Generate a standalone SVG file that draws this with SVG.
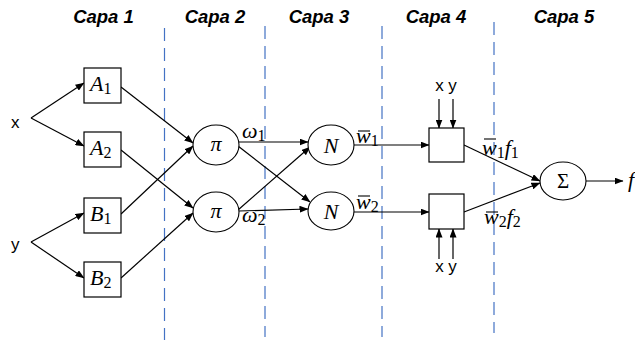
<svg xmlns="http://www.w3.org/2000/svg" width="635" height="341" viewBox="0 0 635 341">
<defs>
<marker id="ah" markerWidth="9" markerHeight="7" refX="8.5" refY="3.5" orient="auto" markerUnits="userSpaceOnUse">
<path d="M0,0 L9,3.5 L0,7 Z" fill="#000"/>
</marker>
<style>
.hdr{font-family:"Liberation Sans",Arial,sans-serif;font-weight:bold;font-style:italic;font-size:18.5px;text-anchor:middle;fill:#000}
.lbl{font-family:"Liberation Sans",Arial,sans-serif;font-size:17px;fill:#000}
.m{font-family:"Liberation Serif","Times New Roman",serif;font-style:italic;font-size:22px;fill:#000}
.up{font-family:"Liberation Serif","Times New Roman",serif;font-style:normal;font-size:21px;fill:#000}
.sub{font-style:normal;font-size:16px}
.box{fill:#fff;stroke:#000;stroke-width:1.2}
.node{fill:#fff;stroke:#000;stroke-width:1.1}
.cn{stroke:#000;stroke-width:1.2;fill:none;marker-end:url(#ah)}
.bar{stroke:#000;stroke-width:1.1}
.dash{stroke:#4472C4;stroke-width:1.2;stroke-dasharray:13 7;fill:none}
</style>
</defs>
<rect width="635" height="341" fill="#fff"/>
<g id="headers">
<text class="hdr" x="103.5" y="23">Capa 1</text>
<text class="hdr" x="215" y="23">Capa 2</text>
<text class="hdr" x="319" y="23">Capa 3</text>
<text class="hdr" x="436" y="23">Capa 4</text>
<text class="hdr" x="564" y="23">Capa 5</text>
</g>
<g id="separators">
<line class="dash" x1="164.5" y1="28" x2="164.5" y2="340"/>
<line class="dash" x1="265" y1="26" x2="265" y2="337"/>
<line class="dash" x1="382" y1="26" x2="382" y2="337"/>
<line class="dash" x1="494" y1="22" x2="494" y2="333"/>
</g>
<g id="connectors">
<line class="cn" x1="31" y1="118" x2="84" y2="83"/>
<line class="cn" x1="31" y1="118" x2="84" y2="146"/>
<line class="cn" x1="31" y1="242" x2="84" y2="213"/>
<line class="cn" x1="31" y1="242" x2="84" y2="278"/>
<line class="cn" x1="121" y1="87" x2="193" y2="143"/>
<line class="cn" x1="121" y1="150" x2="193" y2="208"/>
<line class="cn" x1="121" y1="214" x2="193" y2="146"/>
<line class="cn" x1="121" y1="278" x2="193" y2="213"/>
<line class="cn" x1="239" y1="142" x2="308" y2="142"/>
<line class="cn" x1="238" y1="146" x2="310" y2="202"/>
<line class="cn" x1="238" y1="210" x2="310" y2="147"/>
<line class="cn" x1="239" y1="211" x2="308" y2="209"/>
<line class="cn" x1="354" y1="145" x2="429" y2="145"/>
<line class="cn" x1="354" y1="212" x2="429" y2="212"/>
<line class="cn" x1="439" y1="99" x2="439" y2="128"/>
<line class="cn" x1="453" y1="99" x2="453" y2="128"/>
<line class="cn" x1="439" y1="259" x2="439" y2="229"/>
<line class="cn" x1="453" y1="259" x2="453" y2="229"/>
<line class="cn" x1="464" y1="145" x2="540" y2="181"/>
<line class="cn" x1="464" y1="212" x2="540" y2="183"/>
<line class="cn" x1="586" y1="181" x2="623" y2="181"/>
</g>
<g id="input-x"><text class="lbl" x="11" y="128">x</text></g>
<g id="input-y"><text class="lbl" x="11" y="250">y</text></g>
<g id="A1">
<rect class="box" x="84" y="68" width="37" height="35"/>
<text class="m" x="90" y="91">A<tspan class="sub" dy="3">1</tspan></text>
</g>
<g id="A2">
<rect class="box" x="84" y="132" width="37" height="35"/>
<text class="m" x="90" y="155">A<tspan class="sub" dy="3">2</tspan></text>
</g>
<g id="B1">
<rect class="box" x="84" y="198" width="37" height="35"/>
<text class="m" x="90" y="221">B<tspan class="sub" dy="3">1</tspan></text>
</g>
<g id="B2">
<rect class="box" x="84" y="262" width="37" height="35"/>
<text class="m" x="90" y="285">B<tspan class="sub" dy="3">2</tspan></text>
</g>
<g id="pi1">
<ellipse class="node" cx="216" cy="145" rx="23" ry="20"/>
<text class="m" x="216" y="151" text-anchor="middle">π</text>
</g>
<g id="pi2">
<ellipse class="node" cx="216" cy="212" rx="23" ry="20"/>
<text class="m" x="216" y="218" text-anchor="middle">π</text>
</g>
<g id="N1">
<ellipse class="node" cx="331" cy="145" rx="23" ry="20"/>
<text class="m" x="331" y="152.5" text-anchor="middle">N</text>
</g>
<g id="N2">
<ellipse class="node" cx="331" cy="211" rx="23" ry="19"/>
<text class="m" x="331" y="218.5" text-anchor="middle">N</text>
</g>
<g id="F1">
<rect class="box" x="429" y="128" width="35" height="34"/>
</g>
<g id="F2">
<rect class="box" x="429" y="194" width="35" height="35"/>
</g>
<g id="xy-top"><text class="lbl" x="446" y="91" text-anchor="middle">x y</text></g>
<g id="xy-bottom"><text class="lbl" x="446" y="272" text-anchor="middle">x y</text></g>
<g id="Sigma">
<ellipse class="node" cx="563" cy="181" rx="23" ry="19"/>
<text class="up" x="563" y="188" text-anchor="middle">Σ</text>
</g>
<g id="edge-labels">
<text class="m" x="242" y="138">ω<tspan class="sub" dy="3">1</tspan></text>
<text class="m" x="242" y="222">ω<tspan class="sub" dy="3">2</tspan></text>
<text class="m" x="356" y="143">w<tspan class="sub" dy="3">1</tspan></text>
<line class="bar" x1="358" y1="131" x2="370" y2="131"/>
<text class="m" x="356" y="209">w<tspan class="sub" dy="3">2</tspan></text>
<line class="bar" x1="358" y1="196" x2="370" y2="196"/>
<text class="m" x="482" y="155">w<tspan class="sub" dy="3">1</tspan><tspan dy="-3">f</tspan><tspan class="sub" dy="3">1</tspan></text>
<line class="bar" x1="484" y1="139" x2="496" y2="139"/>
<text class="m" x="484" y="224">w<tspan class="sub" dy="3">2</tspan><tspan dy="-3">f</tspan><tspan class="sub" dy="3">2</tspan></text>
<line class="bar" x1="486" y1="212" x2="498" y2="212"/>
<text class="m" x="628" y="187">f</text>
</g>
</svg>
